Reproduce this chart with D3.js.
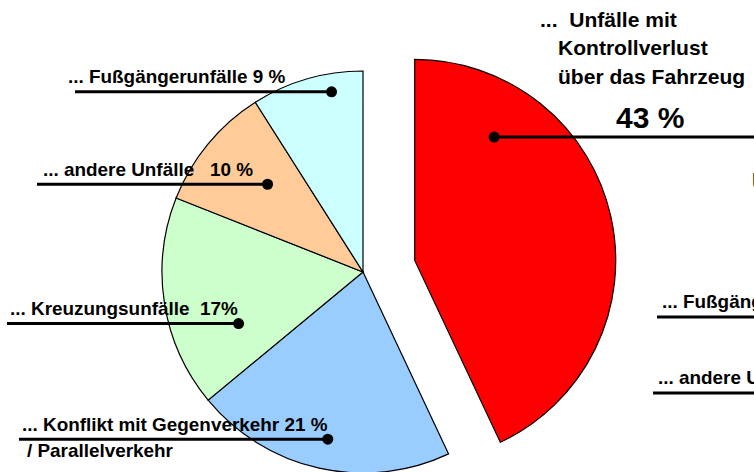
<!DOCTYPE html>
<html>
<head>
<meta charset="utf-8">
<script src="https://cdn.jsdelivr.net/npm/d3@7"></script>
<style>
  body { margin: 0; background: #fff; overflow: hidden; }
  text { font-family: "Liberation Sans", Arial, sans-serif; font-weight: bold; fill: #000; white-space: pre; }
</style>
</head>
<body>
<script>
// ---------------------------------------------------------------
// data
var categories = ["Kontrollverlust", "Gegenverkehr", "Kreuzung", "andere", "Fussgaenger"];
var values     = [43, 21, 17, 10, 9];
var colors     = ["#ff0000", "#99ccff", "#ccffcc", "#ffcc99", "#ccffff"];
var exploded   = [true, false, false, false, false];

// label anchors: angle (deg, clockwise from top) and radius share of the slice
var anchorAngle  = [32.8, 191.9, 247.5, 312.6, 350.1];
var anchorRadius = [0.73, 0.85, 0.67, 0.645, 0.91];
// where the leader line ends (x), and the label text rows
var lineEnd    = [760, 19, 7, 37, 75];
var labelLines = [
  [],
  ["... Konflikt mit Gegenverkehr 21 %", "/ Parallelverkehr"],
  ["... Kreuzungsunfälle  17%"],
  ["... andere Unfälle   10 %"],
  ["... Fußgängerunfälle 9 %"]
];
var titleLines = ["...  Unfälle mit", "Kontrollverlust", "über das Fahrzeug"];
var bigValue   = "43 %";

// cut-off second legend on the right
var ghostLabels = ["... Fußgängerunfälle 9 %", "... andere Unfälle   10 %"];

// ---------------------------------------------------------------
var width = 754, height = 472;
var cx = 363, cy = 272, radius = 201, explode = 53;
var labelSize = 17.5, labelStretch = 1.08;

var svg = d3.select("body").append("svg")
    .attr("width", width)
    .attr("height", height);

var pie = d3.pie().sort(null).value(function(d) { return d; });
var arcs = pie(values);
var arc = d3.arc().innerRadius(0).outerRadius(radius);

function offsetOf(d, i) {
  if (!exploded[i]) return [0, 0];
  var mid = (d.startAngle + d.endAngle) / 2;
  return d3.pointRadial(mid, explode);
}

// text placed at x,y and stretched a bit sideways like the original
function label(x, y, size, sx, t) {
  return svg.append("text")
    .attr("transform", "translate(" + x + "," + y + ") scale(" + sx + ",1)")
    .style("font-size", size + "px")
    .text(t);
}

var g = svg.append("g").attr("transform", "translate(" + cx + "," + cy + ")");

g.selectAll("path.slice")
  .data(arcs)
  .enter()
  .append("path")
  .attr("class", "slice")
  .attr("d", arc)
  .attr("transform", function(d, i) { var o = offsetOf(d, i); return "translate(" + o[0] + "," + o[1] + ")"; })
  .style("fill", function(d, i) { return colors[i]; })
  .style("stroke", "#000")
  .style("stroke-width", 1.2);

// leader lines + dots
var anchors = arcs.map(function(d, i) {
  var o = offsetOf(d, i);
  var p = d3.pointRadial(anchorAngle[i] * Math.PI / 180, anchorRadius[i] * radius);
  return [cx + o[0] + p[0], cy + o[1] + p[1]];
});

svg.selectAll("line.leader")
  .data(anchors)
  .enter()
  .append("line")
  .attr("class", "leader")
  .attr("x1", function(d) { return d[0]; })
  .attr("y1", function(d) { return d[1]; })
  .attr("x2", function(d, i) { return lineEnd[i]; })
  .attr("y2", function(d) { return d[1]; })
  .style("stroke", "#000")
  .style("stroke-width", 3);

svg.selectAll("circle.dot")
  .data(anchors)
  .enter()
  .append("circle")
  .attr("class", "dot")
  .attr("cx", function(d) { return d[0]; })
  .attr("cy", function(d) { return d[1]; })
  .attr("r", 5.5)
  .style("fill", "#000");

// left labels: text sits above the line, extra rows below it
var textX = [0, 22, 10, 43, 68];
anchors.forEach(function(a, i) {
  labelLines[i].forEach(function(t, k) {
    label(textX[i] + (k > 0 ? 5 : 0), k == 0 ? a[1] - 8.5 : a[1] + 18, labelSize, labelStretch, t);
  });
});

// title of the exploded slice
titleLines.forEach(function(t, i) {
  label(i == 0 ? 540 : 558, 26.5 + i * 28.5, 19.5, 1.08, t);
});
label(616, 128, 30, 1.0, bigValue);

// partly visible second chart on the right
label(752, 190, 23, 1.0, "U");

var ghostY = [317, 393], ghostX = [662, 658];
ghostLabels.forEach(function(t, i) {
  label(ghostX[i], ghostY[i] - 9.5, labelSize, labelStretch, t);
  svg.append("line")
    .attr("x1", ghostX[i] - 5)
    .attr("x2", width + 10)
    .attr("y1", ghostY[i])
    .attr("y2", ghostY[i])
    .style("stroke", "#000")
    .style("stroke-width", 3);
});
</script>
</body>
</html>
